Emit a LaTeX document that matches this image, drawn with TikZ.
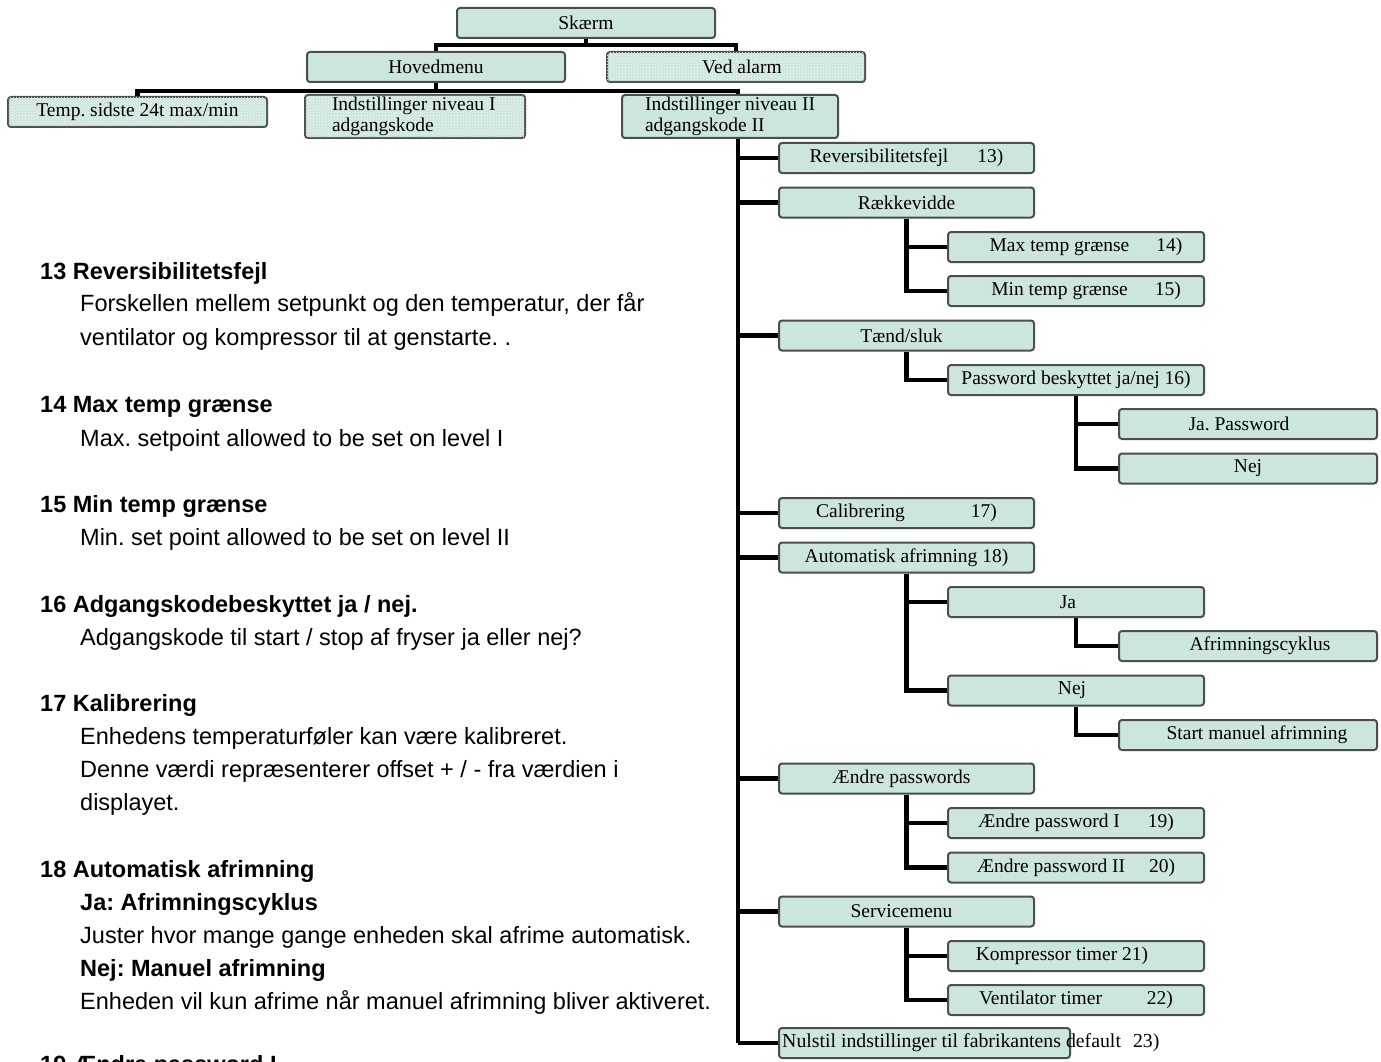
\documentclass[tikz,border=0pt]{standalone}
\usepackage{fontspec}
\setmainfont{Liberation Serif}
\newfontfamily\lsans{Liberation Sans}
\usetikzlibrary{patterns,backgrounds}
\definecolor{boxfill}{HTML}{CDE5DF}
\definecolor{boxline}{HTML}{4A4F4E}
\frenchspacing
\begin{document}
\begin{tikzpicture}[x=1pt,y=-1pt,
  box/.style={draw=boxline, line width=2pt, fill=boxfill, rounded corners=3pt,
    minimum height=30pt, inner sep=0pt, font=\fontsize{19.5}{21}\selectfont},
  tex/.style={box, postaction={pattern=crosshatch dots, pattern color=white}},
  Lone/.style={box, minimum width=255pt},
  Ltwo/.style={box, minimum width=256pt},
  Lthree/.style={box, minimum width=258pt},
  conn/.style={line width=4.5pt, black},
  hd/.style={anchor=base west, inner sep=0pt, font=\lsans\bfseries\fontsize{23.5}{28}\selectfont},
  bd/.style={anchor=base west, inner sep=0pt, font=\lsans\fontsize{23.5}{28}\selectfont}]
\useasboundingbox (0,0) rectangle (1381,1062);

% top levels
\node[box, minimum width=258pt] (sk) at (586,23) {Skærm};
\node[box, minimum width=258pt] (hm) at (436,67) {Hovedmenu};
\node[tex, minimum width=258pt] (va) at (736,67) {\hspace*{12pt}Ved alarm};
\node[tex, minimum width=259pt] (tp) at (137.5,112) {Temp. sidste 24t max/min};
\node[tex, minimum width=220pt, minimum height=43pt] (n1) at (415,116.5)
  {\parbox[c]{220pt}{\leftskip=27pt Indstillinger niveau I\\adgangskode}};
\node[box, minimum width=216pt, minimum height=43pt] (n2) at (730,116.5)
  {\parbox[c]{216pt}{\leftskip=23pt Indstillinger niveau II\\adgangskode II}};

% level 1
\node[Lone] (rev) at (906.5,158) {Reversibilitetsfejl\hspace{29pt}13)};
\node[Lone] (rk) at (906.5,202.5) {Rækkevidde};
\node[Lone] (ts) at (906.5,335.5) {Tænd/sluk\hspace*{10pt}};
\node[Lone] (cal) at (906.5,513) {Calibrering\hspace{66pt}17)};
\node[Lone] (auto) at (906.5,557.5) {Automatisk afrimning 18)};
\node[Lone] (aep) at (906.5,778.5) {Ændre passwords\hspace*{10pt}};
\node[Lone] (svc) at (906.5,911.5) {Servicemenu\hspace*{10pt}};
\node[box, minimum width=291pt] (nul) at (924.5,1043) {};
\node[anchor=west, inner sep=0pt, font=\fontsize{19.8}{21}\selectfont] (nult) at (782,1043)
  {Nulstil indstillinger til fabrikantens default\hspace{12pt}23)};

% level 2
\node[Ltwo] (maxt) at (1076,247) {\hspace*{20pt}Max temp grænse\hspace{27pt}14)};
\node[Ltwo] (mint) at (1076,291) {\hspace*{20pt}Min temp grænse\hspace{27pt}15)};
\node[Ltwo] (pw) at (1076,380) {Password beskyttet ja/nej 16)};
\node[Ltwo] (ja) at (1076,602) {Ja\hspace*{16pt}};
\node[Ltwo] (nej) at (1076,690.5) {Nej\hspace*{8pt}};
\node[Ltwo] (ep1) at (1076,823) {Ændre password I\hspace{28pt}19)};
\node[Ltwo] (ep2) at (1076,867.5) {Ændre password II\hspace{24pt}20)};
\node[Ltwo] (kt) at (1076,956) {Kompressor timer 21)\hspace*{28pt}};
\node[Ltwo] (vt) at (1076,1000) {Ventilator timer\hspace{45pt}22)};

% level 3
\node[Lthree] (jap) at (1248,424) {Ja. Password\hspace*{18pt}};
\node[Lthree] (nejp) at (1248,468.5) {Nej};
\node[Lthree] (afc) at (1248,646) {\hspace*{24pt}Afrimningscyklus};
\node[Lthree] (sma) at (1248,735) {\hspace*{18pt}Start manuel afrimning};

% connectors
\begin{pgfonlayer}{background}
\fill[white] (0,0) rectangle (1381,1062);
\coordinate (bar1) at (586,45);
\coordinate (bar2) at (436,91);
\coordinate (tr) at (738,91);
\coordinate (trb) at (738,1043);
\draw[conn] (sk.south) -- (bar1);
\draw[conn] (bar1) -| (hm.north);
\draw[conn] (bar1) -| (va.north);
\draw[conn] (hm.south) -- (bar2);
\draw[conn] (bar2) -| (tp.north);
\draw[conn] (bar2) -- (tr) -- (trb);
\foreach \n in {rev,rk,ts,cal,auto,aep,svc,nul}
  \draw[conn] (tr |- \n.west) -- (\n.west);
\draw[conn] (rk.south) |- (maxt.west);
\draw[conn] (rk.south) |- (mint.west);
\draw[conn] (ts.south) |- (pw.west);
\draw[conn] (pw.south) |- (jap.west);
\draw[conn] (pw.south) |- (nejp.west);
\draw[conn] (auto.south) |- (ja.west);
\draw[conn] (auto.south) |- (nej.west);
\draw[conn] (ja.south) |- (afc.west);
\draw[conn] (nej.south) |- (sma.west);
\draw[conn] (aep.south) |- (ep1.west);
\draw[conn] (aep.south) |- (ep2.west);
\draw[conn] (svc.south) |- (kt.west);
\draw[conn] (svc.south) |- (vt.west);
\end{pgfonlayer}

% left texts
\node[hd] (t13h) at (40,279) {13 Reversibilitetsfejl};
\node[bd] (t13a) at (80,311) {Forskellen mellem setpunkt og den temperatur, der får};
\node[bd] (t13b) at (80,345) {ventilator og kompressor til at genstarte. .};
\node[hd] (t14h) at (40,412) {14 Max temp grænse};
\node[bd] (t14a) at (80,446) {Max. setpoint allowed to be set on level I};
\node[hd] (t15h) at (40,512) {15 Min temp grænse};
\node[bd] (t15a) at (80,545) {Min. set point allowed to be set on level II};
\node[hd] (t16h) at (40,612) {16 Adgangskodebeskyttet ja / nej.};
\node[bd] (t16a) at (80,645) {Adgangskode til start / stop af fryser ja eller nej?};
\node[hd] (t17h) at (40,711) {17 Kalibrering};
\node[bd] (t17a) at (80,744) {Enhedens temperaturføler kan være kalibreret.};
\node[bd] (t17b) at (80,777) {Denne værdi repræsenterer offset + / - fra værdien i};
\node[bd] (t17c) at (80,810) {displayet.};
\node[hd] (t18h) at (40,877) {18 Automatisk afrimning};
\node[hd] (t18a) at (80,910) {Ja: Afrimningscyklus};
\node[bd] (t18b) at (80,943) {Juster hvor mange gange enheden skal afrime automatisk.};
\node[hd] (t18c) at (80,976) {Nej: Manuel afrimning};
\node[bd] (t18d) at (80,1009) {Enheden vil kun afrime når manuel afrimning bliver aktiveret.};
\node[hd] (t19h) at (40,1072) {19 Ændre password I};
\end{tikzpicture}
\end{document}
